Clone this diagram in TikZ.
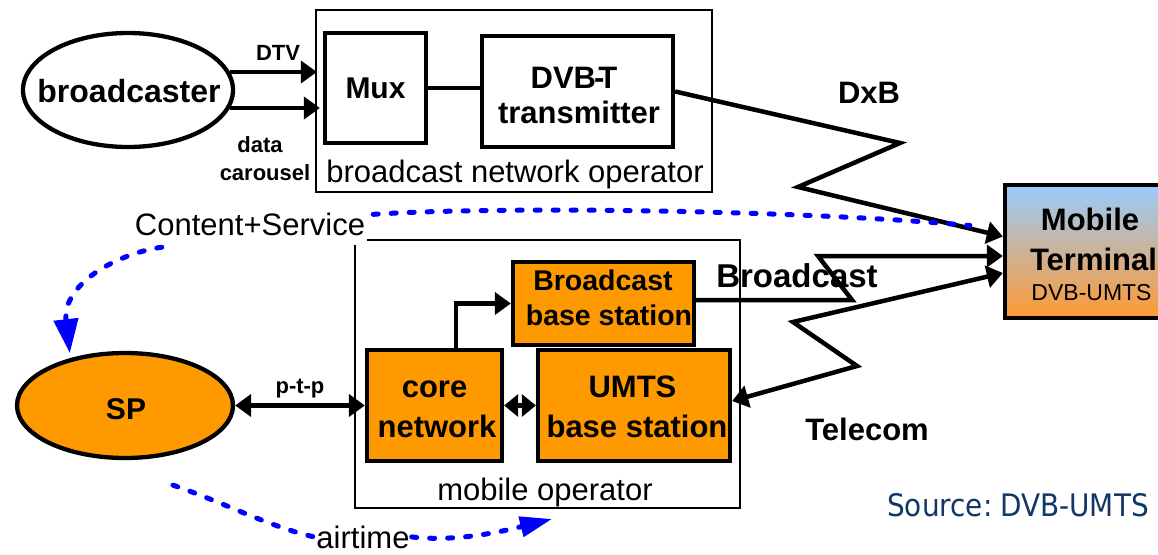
\documentclass[tikz,border=0pt]{standalone}
\usepackage{fontspec}
\setmainfont{Liberation Sans}
\newfontfamily\srcfont[FakeStretch=0.9]{DejaVu Sans}
\usetikzlibrary{arrows.meta,shapes.geometric,calc}
\definecolor{boxorange}{RGB}{255,153,0}
\definecolor{termtop}{RGB}{153,204,255}
\definecolor{termbot}{RGB}{255,153,51}
\definecolor{srcblue}{RGB}{18,55,100}
\newcommand\bsz[1]{\fontsize{#1}{#1}\selectfont\bfseries}
\newcommand\rsz[1]{\fontsize{#1}{#1}\selectfont}
\tikzset{
  frame/.style={draw, line width=1.3pt, inner sep=0pt},
  blk/.style={draw, line width=4.3pt, inner sep=0pt},
  obox/.style={blk, fill=boxorange},
  txt/.style={inner sep=0pt, anchor=base},
  thk/.style={line width=4.5pt},
  arr/.style={thk, -{Triangle[length=16pt,width=22pt]}},
  darr/.style={thk, {Triangle[length=16pt,width=22pt]}-{Triangle[length=16pt,width=22pt]}},
  bluedash/.style={draw=blue, line width=5pt, line cap=round, dash pattern=on 5pt off 13pt},
  bluetip/.style={-{Triangle[length=34pt,width=24pt]}},
}
\begin{document}
\begin{tikzpicture}[x=1pt,y=-1pt]
\useasboundingbox (0,0) rectangle (1158,554);

% ---------- broadcast network operator ----------
\node[frame, minimum width=396pt, minimum height=182pt] (bno) at (514,101) {};
\node[txt] (bno-t) at (515,182) {\rsz{31}broadcast network operator};
\node[blk, minimum width=101pt, minimum height=110pt] (mux) at (375.5,88) {\bsz{30}Mux};
\node[blk, minimum width=191pt, minimum height=111pt] (dvbt) at (577.5,91.5) {};
\node[txt] (dvbt-t1) at (574,88) {\bsz{31}DVB\kern-2pt-\kern-6pt T};
\node[txt] (dvbt-t2) at (579,123) {\bsz{31}transmitter};
\draw[thk] (mux.east) -- (mux.east -| dvbt.west);

% ---------- broadcaster ----------
\node[ellipse, blk, minimum width=210pt, minimum height=114pt] (bc) at (128,90) {};
\node[txt] (bc-t) at (129,102) {\bsz{32}broadcaster};
\draw[arr, shorten >=6pt] (bc.10) -- (bc.10 -| mux.west);
\draw[arr, shorten >=3pt] (bc.-10) -- (bc.-10 -| mux.west);
\node[txt] (dtv) at (278,60) {\bsz{22}DTV};
\node[txt] (data) at (260,152) {\bsz{22}data};
\node[txt] (carousel) at (265,180) {\bsz{22}carousel};

% ---------- mobile terminal ----------
\node[blk, minimum width=173pt, minimum height=133pt, top color=termtop, bottom color=termbot] (term) at (1091.5,251.5) {};
\node[txt] (term-t1) at (1090,230) {\bsz{31}Mobile};
\node[txt] (term-t2) at (1093.5,270) {\bsz{31}Terminal};
\node[txt] (term-t3) at (1091.5,300) {\rsz{23}DVB-UMTS};

% ---------- DxB radio link ----------
\coordinate (dxb-a) at (900,143);
\coordinate (dxb-b) at (798,187);
\draw[arr] (dvbt.east) -- (dxb-a) -- (dxb-b) -- ($(term.west)+(0,-15)$);
\node[txt] (dxb) at (869,103) {\bsz{31}DxB};

% ---------- mobile operator ----------
\node[frame, minimum width=385pt, minimum height=268pt] (mo) at (547.5,374) {};
\node[txt] (mo-t) at (545,500) {\rsz{31}mobile operator};
\node[obox, minimum width=181pt, minimum height=83pt] (bbs) at (603.5,303.5) {};
\node[txt] (bbs-t1) at (603,290) {\bsz{28.5}Broadcast};
\node[txt] (bbs-t2) at (609,325) {\bsz{28.5}base station};
\node[obox, minimum width=135pt, minimum height=111pt] (core) at (434.5,405.5) {};
\node[txt] (core-t1) at (434.5,397) {\bsz{31}core};
\node[txt] (core-t2) at (437,437) {\bsz{31}network};
\node[obox, minimum width=192pt, minimum height=111pt] (umts) at (634,405.5) {};
\node[txt] (umts-t1) at (632.5,397) {\bsz{31}UMTS};
\node[txt] (umts-t2) at (637,437) {\bsz{31}base station};
\draw[arr] ($(core.north)+(21.5,0)$) |- (bbs.west);
\draw[thk, {Triangle[length=14pt,width=22pt]}-{Triangle[length=14pt,width=22pt]}] (core.east) -- (umts.west);

% ---------- service provider ----------
\node[ellipse, obox, minimum width=216pt, minimum height=105pt] (sp) at (125,405.5) {};
\node[txt] (sp-t) at (126,419) {\bsz{30}SP};
\draw[darr] (sp.east) -- (core.west);
\node[txt] (ptp) at (300,393) {\bsz{22}p-t-p};

% ---------- broadcast and telecom links ----------
\coordinate (bl-a) at (852,300);
\coordinate (bl-b) at (818,256);
\draw[arr] (bbs.east |- bl-a) -- (bl-a) -- (bl-b) -- (bl-b -| term.west);
\node[txt] (bl-t) at (797,287) {\bsz{33}Broadcast};
\coordinate (tl-a) at (793,322);
\coordinate (tl-b) at (857,366);
\draw[darr] ($(term.west)+(0,21.5)$) -- (tl-a) -- (tl-b) -- ($(umts.east)+(0,-4.5)$);
\node[txt] (tl-t) at (867,440) {\bsz{31}Telecom};

% ---------- business flows ----------
\node[txt, fill=white, inner xsep=2pt, inner ysep=2pt, text depth=8pt] (cs) at (250,235) {\rsz{31}Content+Service};
\node[txt, inner sep=2pt] (air) at (363,548) {\rsz{31}airtime};
\coordinate (air-tip) at (552,519);
\draw[bluedash] ($(cs.north east)+(6,4)$) .. controls (500,206) and (800,210) .. ($(term.west)+(-33,-26)$);
\draw[bluedash, bluetip, shorten >=5pt] ($(cs.south west)+(29,2)$) .. controls (115,254) and (62,285) .. (sp.139);
\draw[bluedash] ($(sp.south)+(48,25)$) .. controls (225,503) and (270,527) .. (air.west);
\draw[bluedash, -{Triangle[length=32pt,width=20pt]}] (air.east) .. controls (455,542) and (500,532) .. (air-tip);

% ---------- source note ----------
\node[txt, anchor=base west, text=srcblue] (src) at (887,516) {\srcfont\fontsize{31}{31}\selectfont Source:\hspace{0.25em}DVB-UMTS};
\end{tikzpicture}
\end{document}
